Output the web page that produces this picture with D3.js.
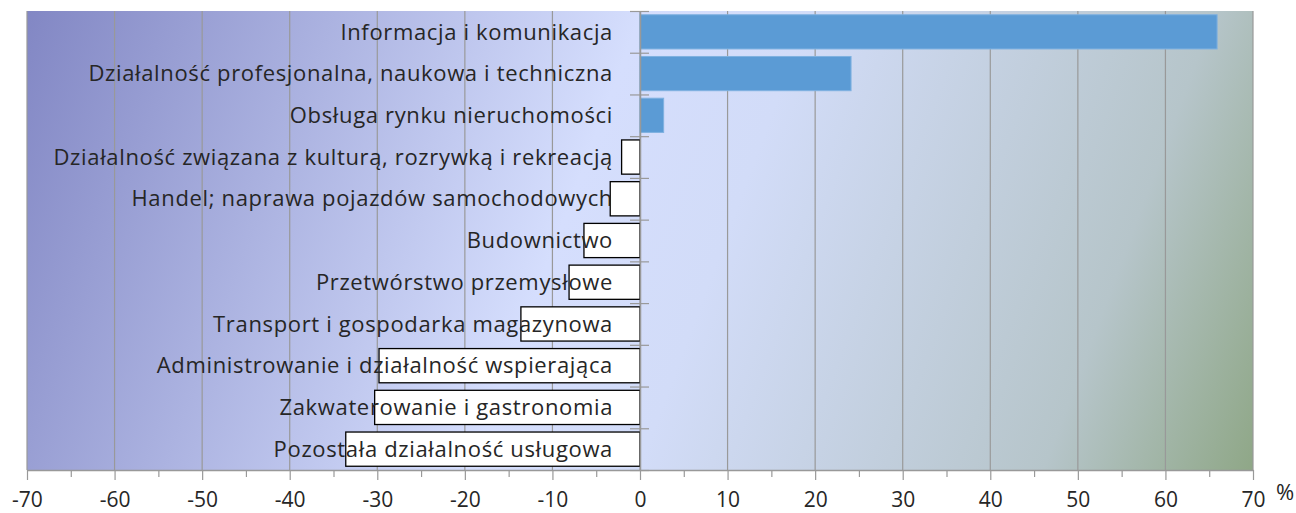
<!DOCTYPE html>
<html>
<head>
<meta charset="utf-8">
<script src="https://cdn.jsdelivr.net/npm/d3@7"></script>
<style>
  body { margin: 0; background: #fff; }
  text { font-family: "Open Sans", "DejaVu Sans", sans-serif; fill: #262626; }
</style>
</head>
<body>
<script>
var categories = [
  "Informacja i komunikacja",
  "Działalność profesjonalna, naukowa i techniczna",
  "Obsługa rynku nieruchomości",
  "Działalność związana z kulturą, rozrywką i rekreacją",
  "Handel; naprawa pojazdów samochodowych",
  "Budownictwo",
  "Przetwórstwo przemysłowe",
  "Transport i gospodarka magazynowa",
  "Administrowanie i działalność wspierająca",
  "Zakwaterowanie i gastronomia",
  "Pozostała działalność usługowa"
];
var values = [65.9, 24.1, 2.7, -2.1, -3.4, -6.4, -8.1, -13.6, -29.8, -30.3, -33.6];
var majorTicks = d3.range(-70, 71, 10);
var minorTicks = d3.range(-65, 70, 10);
var unitLabel = "%";

var width = 1296, height = 513;
var margin = {top: 11, right: 43, bottom: 43, left: 27};

var svg = d3.select("body").append("svg")
    .attr("width", width)
    .attr("height", height);

var x = d3.scaleLinear()
    .domain([-70, 70])
    .range([margin.left, width - margin.right]);

var y = d3.scaleBand()
    .domain(categories)
    .range([margin.top, height - margin.bottom])
    .paddingInner(0.18)
    .paddingOuter(0.09);

var yi = d3.scaleLinear()
    .domain([0, categories.length])
    .range([margin.top, height - margin.bottom]);

// background gradient
var grad = svg.append("defs").append("linearGradient")
    .attr("id", "bg")
    .attr("gradientUnits", "userSpaceOnUse")
    .attr("x1", x(-70)).attr("y1", margin.top)
    .attr("x2", x(70)).attr("y2", height - margin.bottom);
grad.append("stop").attr("offset", 0).attr("stop-color", "#8287c4");
grad.append("stop").attr("offset", 0.44).attr("stop-color", "#d5defd");
grad.append("stop").attr("offset", 0.56).attr("stop-color", "#d2dcf8");
grad.append("stop").attr("offset", 0.85).attr("stop-color", "#b6c5ca");
grad.append("stop").attr("offset", 1).attr("stop-color", "#8fa787");

svg.append("rect")
    .attr("x", x(-70))
    .attr("y", margin.top)
    .attr("width", x(70) - x(-70))
    .attr("height", height - margin.bottom - margin.top)
    .attr("fill", "url(#bg)");

// gridlines
svg.append("g").selectAll("line")
    .data(majorTicks)
    .enter().append("line")
    .attr("x1", function (d) { return x(d); })
    .attr("x2", function (d) { return x(d); })
    .attr("y1", margin.top)
    .attr("y2", height - margin.bottom)
    .attr("stroke", "#999")
    .attr("stroke-width", 1.2);

// bars
svg.append("g").selectAll("rect")
    .data(values)
    .enter().append("rect")
    .attr("x", function (d) { return x(Math.min(0, d)); })
    .attr("y", function (d, i) { return y(categories[i]); })
    .attr("width", function (d) { return Math.abs(x(d) - x(0)); })
    .attr("height", y.bandwidth())
    .attr("fill", function (d) { return d >= 0 ? "#5b9bd5" : "#fff"; })
    .attr("stroke", function (d) { return d >= 0 ? "#7fb1e0" : "#000"; })
    .attr("stroke-width", function (d) { return d >= 0 ? 1 : 1.3; });

// x axis: minor then major ticks
var xMinor = svg.append("g")
    .attr("transform", "translate(0," + (height - margin.bottom) + ")")
    .call(d3.axisBottom(x).tickValues(minorTicks).tickSize(7).tickFormat(""));
xMinor.select(".domain").remove();
xMinor.selectAll("line").attr("stroke", "#999").attr("stroke-width", 1.2);

var xAxis = svg.append("g")
    .attr("transform", "translate(0," + (height - margin.bottom) + ")")
    .call(d3.axisBottom(x).tickValues(majorTicks).tickSize(10).tickPadding(12)
      .tickSizeOuter(0).tickFormat(function (d) { return String(d); }));
xAxis.select(".domain").attr("stroke", "#999").attr("stroke-width", 1.5);
xAxis.selectAll("line").attr("stroke", "#999").attr("stroke-width", 1.2);
xAxis.selectAll("text")
    .style("font-size", "21px")
    .attr("fill", "#262626");

svg.append("text")
    .attr("x", 1285)
    .attr("y", 500)
    .attr("text-anchor", "middle")
    .style("font-size", "22px")
    .text(unitLabel);

// y axis at zero with crossing ticks
var yAxis = svg.append("g")
    .attr("transform", "translate(" + x(0) + ",0)")
    .call(d3.axisLeft(yi).tickValues(d3.range(categories.length + 1)).tickSize(10).tickFormat("").tickSizeOuter(0));
yAxis.select(".domain").attr("stroke", "#999").attr("stroke-width", 1.5);
yAxis.selectAll(".tick line").attr("x1", 9).attr("stroke", "#999").attr("stroke-width", 1.2);

// category labels
svg.append("g").selectAll("text")
    .data(categories)
    .enter().append("text")
    .attr("x", x(0) - 27)
    .attr("y", function (d) { return y(d) + y.bandwidth() / 2; })
    .attr("dy", "0.35em")
    .attr("text-anchor", "end")
    .style("font-size", "22px")
    .style("letter-spacing", "0.65px")
    .text(function (d) { return d; });
</script>
</body>
</html>
